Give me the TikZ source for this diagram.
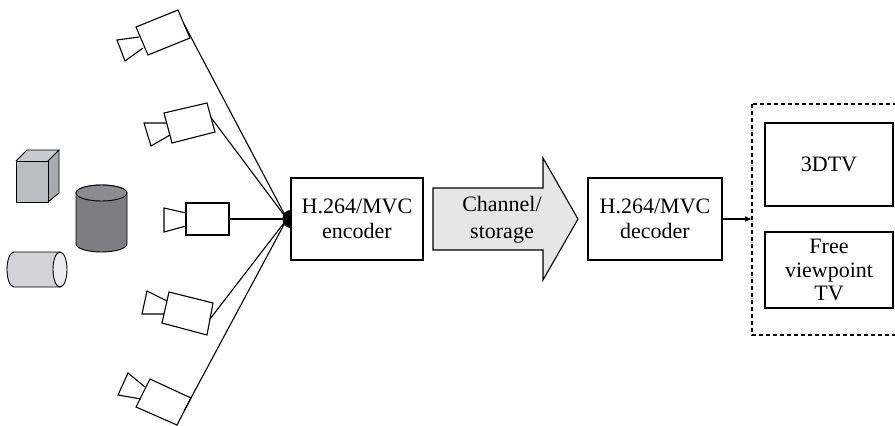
\documentclass[tikz,border=0pt]{standalone}
\usepackage{fontspec}
\setmainfont{Liberation Serif}
\usetikzlibrary{arrows.meta}
\definecolor{cubegray}{HTML}{BCBDC1}
\definecolor{cubetop}{HTML}{C9CACD}
\definecolor{cubeside}{HTML}{A9AAAE}
\definecolor{drumgray}{HTML}{7E7E80}
\definecolor{drumtop}{HTML}{8C8C8E}
\definecolor{pipegray}{HTML}{D3D3D5}
\definecolor{pipeend}{HTML}{ECECEE}
\definecolor{pipefill}{HTML}{E6E6E6}
\tikzset{
  outline/.style={draw=black, line width=1.1pt, line join=miter},
  block/.style={outline, fill=white, minimum width=132pt, minimum height=82pt,
    align=center, inner sep=0pt, font=\fontsize{22}{25}\selectfont},
  screen/.style={outline, fill=white, align=center, inner sep=0pt,
    font=\fontsize{22}{23.5}\selectfont},
  camline/.style={draw=black, line width=1.1pt},
  wire/.style={draw=black, line width=1.1pt},
}
\begin{document}
\begin{tikzpicture}[x=1pt,y=-1pt]
\useasboundingbox (0,0) rectangle (895,426);
\clip (0,0) rectangle (895,426);

% --- scene objects ---
% cube
\fill[cubegray] (16,161) rectangle (48,202);
\fill[cubetop] (16,161) -- (27,150) -- (59,150) -- (48,161) -- cycle;
\fill[cubeside] (48,161) -- (59,150) -- (59,193) -- (48,202) -- cycle;
\draw[outline, line width=0.9pt] (16,161) rectangle (48,202);
\draw[outline, line width=0.9pt] (16,161) -- (27,150) -- (59,150) -- (48,161);
\draw[outline, line width=0.9pt] (59,150) -- (59,193) -- (48,202);

% upright drum (angle 90 points down the page here)
\filldraw[fill=drumgray, outline, line width=0.9pt]
  (76,193) -- (76,244) arc[start angle=180, end angle=0, x radius=25.5, y radius=8]
  -- (127,193) arc[start angle=360, end angle=180, x radius=25.5, y radius=8] -- cycle;
\filldraw[fill=drumtop, outline, line width=0.9pt] (101.5,193) ellipse[x radius=25.5, y radius=8];

% lying pipe
\filldraw[fill=pipegray, outline, line width=0.9pt]
  (60,252) -- (14,252) arc[start angle=270, end angle=90, x radius=7, y radius=17.5]
  -- (60,287) -- cycle;
\filldraw[fill=pipeend, outline, line width=0.9pt] (60,269.5) ellipse[x radius=7, y radius=17.5];

% --- cameras (body, lens) and their front points ---
\draw[camline] (136,27) -- (178,10) -- (190,38) -- (148,55) -- cycle;
\draw[camline] (139,37) -- (117,40) -- (125,61) -- (143,48);
\coordinate (c1) at (184,24);

\draw[camline] (164,113) -- (207,103) -- (215,132) -- (172,143) -- cycle;
\draw[camline] (166,123) -- (144,123) -- (151,146) -- (170,135);
\coordinate (c2) at (211,117.5);

\draw[camline] (186,203) rectangle (229,235);
\draw[camline] (186,213) -- (164,208) -- (164,232) -- (186,226);
\coordinate (c3) at (229,219);

\draw[camline] (169,292) -- (213,303) -- (207,335) -- (162,323) -- cycle;
\draw[camline] (167,301) -- (147,291) -- (142,314) -- (164,314);
\coordinate (c4) at (210,319);

\draw[camline] (150,379) -- (191,398) -- (177,425) -- (136,407) -- cycle;
\draw[camline] (145,387) -- (128,373) -- (118,395) -- (141,399);
\coordinate (c5) at (184,411);

% --- encoder and camera bundle ---
\node[block] (enc) at (357,219) {H.264/MVC\\encoder};
\coordinate (j) at (287,219);
\foreach \c in {c1,c2,c3,c4,c5} \draw[wire] (\c) -- (j);
\fill[black] (enc.west) ++(0,9) arc[start angle=90, end angle=270, x radius=8, y radius=9] -- cycle;

% --- channel arrow ---
\filldraw[fill=pipefill, outline]
  (433,188) -- (543,188) -- (543,158) -- (578,219) -- (543,280) -- (543,250) -- (433,250) -- cycle;
\node[align=center, font=\fontsize{22}{27}\selectfont] (chan) at (502,220) {Channel/\\storage};

% --- decoder ---
\node[block, minimum width=134pt] (dec) at (655,219) {H.264/MVC\\decoder};

% --- displays ---
\draw[outline, dashed, dash pattern=on 4pt off 3pt] (752,104) rectangle (905,335);
\coordinate (disp) at (752,219);
\node[screen, minimum width=128pt, minimum height=83pt] (tv3d) at (829,164.5) {3DTV};
\node[screen, minimum width=128pt, minimum height=76pt] (ftv) at (829,270) {Free\\viewpoint\\TV};
\draw[wire, -{Latex[length=7pt,width=6pt]}] (dec.east) -- (disp);
\end{tikzpicture}
\end{document}
